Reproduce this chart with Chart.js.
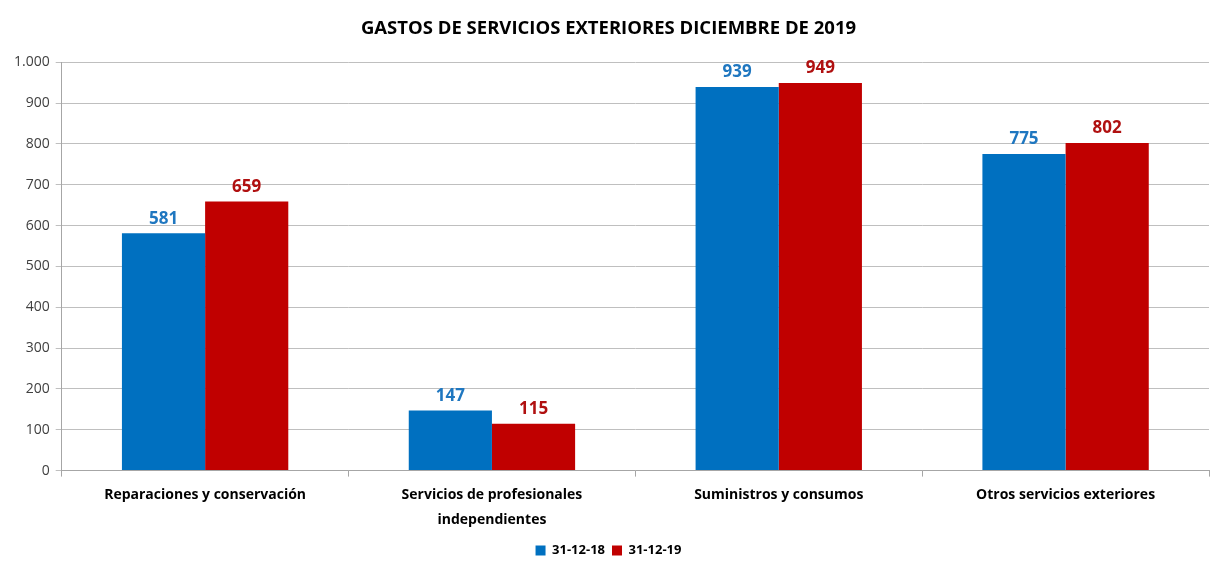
<!DOCTYPE html>
<html>
<head>
<meta charset="utf-8">
<script src="https://cdn.jsdelivr.net/npm/chart.js@4"></script>
<style>
  html, body { margin: 0; padding: 0; background: #fff; }
  #wrap { width: 1221px; height: 561px; }
</style>
</head>
<body>
<div id="wrap"><canvas id="gastosChart"></canvas></div>
<script>
// Chart data
const categories = [
    "Reparaciones y conservación",
    ["Servicios de profesionales", "independientes"],
    "Suministros y consumos",
    "Otros servicios exteriores"
];
const seriesNames = ["31-12-18", "31-12-19"];
const values2018 = [581, 147, 939, 775];
const values2019 = [659, 115, 949, 802];
const yTicks = [0, 100, 200, 300, 400, 500, 600, 700, 800, 900, 1000];

const blue = '#0070C0';
const red = '#C00000';
const fontFamily = "'Open Sans', 'Liberation Sans', sans-serif";

// thousands separator with a dot, like the original
function fmt(v) {
    return String(v).replace(/\B(?=(\d{3})+(?!\d))/g, '.');
}

// draws the value above every bar
const valueLabels = {
    id: 'valueLabels',
    afterDatasetsDraw(chart) {
        const ctx = chart.ctx;
        ctx.save();
        ctx.font = "bold 17px " + fontFamily;
        ctx.textAlign = 'center';
        ctx.textBaseline = 'bottom';
        chart.data.datasets.forEach((ds, i) => {
            const meta = chart.getDatasetMeta(i);
            ctx.fillStyle = ds.labelColor;
            meta.data.forEach((bar, j) => {
                ctx.fillText(fmt(ds.data[j]), bar.x, bar.y - 6);
            });
        });
        ctx.restore();
    }
};

const canvasElement = document.getElementById('gastosChart');
const config = {
    type: 'bar',
    data: {
        labels: categories,
        datasets: [
            { label: seriesNames[0], data: values2018, backgroundColor: blue, labelColor: '#1F77C0' },
            { label: seriesNames[1], data: values2019, backgroundColor: red, labelColor: '#B01010' }
        ]
    },
    options: {
        responsive: true,
        maintainAspectRatio: false,
        animation: false,
        layout: { padding: { left: 8, right: 12, top: 6, bottom: -6 } },
        datasets: {
            bar: { categoryPercentage: 0.58, barPercentage: 1.0 }
        },
        plugins: {
            title: {
                display: true,
                text: 'GASTOS DE SERVICIOS EXTERIORES DICIEMBRE DE 2019',
                color: '#000',
                font: { family: fontFamily, size: 18.5, weight: 'bold' },
                padding: { top: 12, bottom: 22 }
            },
            legend: {
                position: 'bottom',
                labels: {
                    color: '#000',
                    boxWidth: 10,
                    boxHeight: 10,
                    padding: 7,
                    font: { family: fontFamily, size: 13, weight: 'bold' }
                }
            },
            tooltip: { enabled: false }
        },
        scales: {
            x: {
                // a little less room under the axis, labels keep their spacing
                afterFit(scale) { scale.height -= 2; },
                grid: { drawOnChartArea: false, drawTicks: true, tickLength: 6, color: '#a6a6a6' },
                border: { color: '#a6a6a6' },
                ticks: {
                    color: '#000',
                    padding: 6,
                    font: { family: fontFamily, size: 14, weight: 'bold', lineHeight: 1.8 }
                }
            },
            y: {
                min: 0,
                max: 1000,
                afterBuildTicks(axis) {
                    axis.ticks = yTicks.map(v => ({ value: v }));
                },
                grid: { color: '#bfbfbf', tickLength: 6 },
                border: { color: '#a6a6a6' },
                ticks: {
                    color: '#404040',
                    padding: 6,
                    font: { family: fontFamily, size: 14 },
                    callback: v => fmt(v)
                }
            }
        }
    },
    plugins: [valueLabels]
};

const gastosChart = new Chart(canvasElement, config);
</script>
</body>
</html>
